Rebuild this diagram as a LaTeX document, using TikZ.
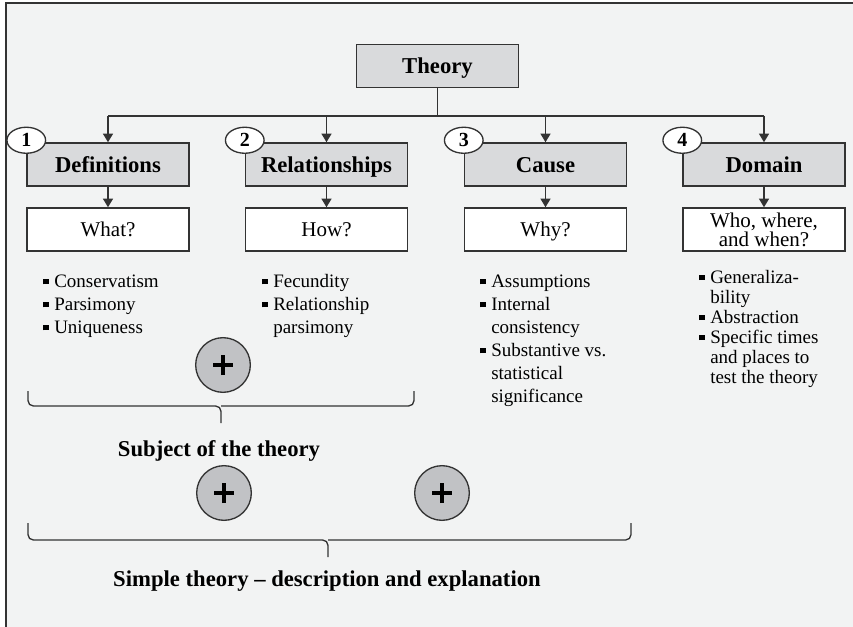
\documentclass[tikz,border=0pt]{standalone}
\usepackage{fontspec}
\setmainfont{Liberation Serif}
\usetikzlibrary{arrows.meta,shapes.geometric}
\definecolor{bg}{HTML}{F2F3F3}
\definecolor{hdr}{HTML}{D9DADC}
\definecolor{plusgray}{HTML}{C1C2C5}
\definecolor{ink}{HTML}{333333}
\newcommand{\blt}{\strut\makebox[8.25pt][l]{\rule[2.3pt]{4pt}{4pt}}}
\newcommand{\cnt}{\strut\hspace*{8.25pt}}
\begin{document}
\begin{tikzpicture}
		[	x=0.75pt,y=-0.75pt,
		hbox/.style={rectangle,draw=ink,fill=hdr,line width=1.1pt,minimum width=121.5pt,minimum height=32.25pt,inner sep=0,text height=12pt,text depth=0pt,font=\fontsize{17}{19}\selectfont\bfseries},
		qbox/.style={rectangle,draw=ink,fill=white,line width=1.1pt,minimum width=121.5pt,minimum height=32.25pt,inner sep=0,align=center,text height=11.2pt,text depth=0pt,font=\fontsize{15.75}{12.75}\selectfont},
		num/.style={ellipse,draw=ink,fill=white,line width=1pt,minimum width=29pt,minimum height=19.5pt,inner sep=0,font=\fontsize{15}{15}\selectfont\bfseries},
		plus/.style={circle,draw=ink,fill=plusgray,line width=1pt,minimum size=41pt,inner sep=0,
			path picture={\draw[line width=3.7pt,black]
				([xshift=-7.5pt]path picture bounding box.center) -- ([xshift=7.5pt]path picture bounding box.center)
				([yshift=-7.5pt]path picture bounding box.center) -- ([yshift=7.5pt]path picture bounding box.center);}},
		lst/.style={anchor=north west,inner sep=0,align=left,font=\fontsize{14.25}{17.25}\selectfont},
		lbl/.style={anchor=base,inner sep=0,font=\fontsize{17}{19}\selectfont\bfseries},
		link/.style={draw=ink,line width=1.1pt},
		arr/.style={link,-{Triangle[width=7.5pt,length=6.5pt]}},
		bracket/.style={draw=ink,line width=1pt,rounded corners=4pt}
		]
		\useasboundingbox (0,0) rectangle (853,627);
		\fill[white] (0,0) rectangle (853,627);
		\fill[bg] (6,3) rectangle (853,627);
		\draw[ink,line width=1.1pt] (6,627) -- (6,3) -- (853,3);

		\node[hbox,text height=11pt] (theory) at (437.5,66){Theory};

		\node[hbox] (def) at (108,164.5){Definitions};
		\node[hbox] (rel) at (326.5,164.5){Relationships};
		\node[hbox] (cause) at (545.5,164.5){Cause};
		\node[hbox] (dom) at (764,164.5){Domain};

		\node[num] (n1) at ([yshift=1.5pt]def.north west){1};
		\node[num] (n2) at ([yshift=1.5pt]rel.north west){2};
		\node[num] (n3) at ([yshift=1.5pt]cause.north west){3};
		\node[num] (n4) at ([yshift=1.5pt]dom.north west){4};

		\node[qbox] (what) at (108,229.5){What?};
		\node[qbox] (how) at (326.5,229.5){How?};
		\node[qbox] (why) at (545.5,229.5){Why?};
		\node[qbox,text height={},text depth={}] (who) at (764,229.5){Who, where,\\and when?};

		% bus from the theory box
		\coordinate (bus) at (0,116);
		\draw[link] (theory.south) -- (bus -| theory);
		\draw[link] (bus -| def) -- (bus -| dom);
		\foreach \b in {def,rel,cause,dom}
			\draw[arr] (bus -| \b) -- (\b);
		\draw[arr] (def) -- (what);
		\draw[arr] (rel) -- (how);
		\draw[arr] (cause) -- (why);
		\draw[arr] (dom) -- (who);

\node[lst] (deflist) at (43,271){\blt Conservatism\\\blt Parsimony\\\blt Uniqueness};
\node[lst] (rellist) at (262,271){\blt Fecundity\\\blt Relationship\\\cnt parsimony};
\node[lst] (causelist) at (480,271){\blt Assumptions\\\blt Internal\\\cnt consistency\\\blt Substantive vs.\\\cnt statistical\\\cnt significance};
\node[lst,font=\fontsize{14.25}{15}\selectfont] (domlist) at (699,269){\blt Generaliza-\\\cnt bility\\\blt Abstraction\\\blt Specific times\\\cnt and places to\\\cnt test the theory};

		\node[plus] (p1) at (223,365){};
		\node[plus] (p2) at (224,493){};
		\node[plus] (p3) at (442,493){};

		% brackets
		\coordinate (subjL) at (28,391);
		\coordinate (subjR) at (414,391);
		\coordinate (subjT) at (221,406);
		\coordinate (subjB) at (221,423);
		\draw[bracket] (subjL) |- (subjT) -- (subjB);
		\draw[bracket] (subjR) |- (subjT);
		\coordinate (simpL) at (28,523);
		\coordinate (simpR) at (631,523);
		\coordinate (simpT) at (328,540);
		\coordinate (simpB) at (328,557);
		\draw[bracket] (simpL) |- (simpT) -- (simpB);
		\draw[bracket] (simpR) |- (simpT);

		\node[lbl] (subj) at (219,456){Subject of the theory};
		\node[lbl] (simple) at (327,586){Simple theory – description and explanation};
	\end{tikzpicture}
\end{document}
